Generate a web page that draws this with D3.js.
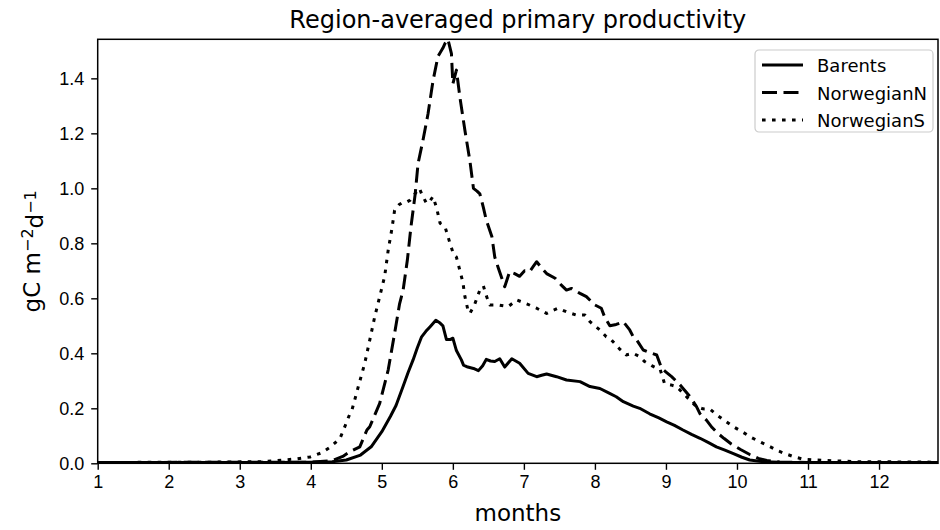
<!DOCTYPE html>
<html>
<head>
<meta charset="utf-8">
<script src="https://cdn.jsdelivr.net/npm/d3@7"></script>
<style>
  body { margin: 0; background: #fff; }
  svg { font-family: "DejaVu Sans", sans-serif; }
  .tick text { fill: #000; }
</style>
</head>
<body>
<div class="chart"></div>
<script>
const w = 940;
const h = 530;
const margin = { top: 39.3, bottom: 66.7, left: 97.7, right: 2 };

const width = w - margin.left - margin.right;
const height = h - margin.top - margin.bottom;

// data (month, gC m-2 d-1)
const barentsMonths = [1.0, 3.5, 4.0, 4.3, 4.5, 4.7, 4.85, 5.0, 5.12, 5.2, 5.3, 5.37, 5.44, 5.5, 5.56, 5.62, 5.68, 5.76, 5.82, 5.86, 5.91, 5.96, 6.0, 6.05, 6.12, 6.15, 6.21, 6.29, 6.36, 6.42, 6.47, 6.53, 6.59, 6.66, 6.73, 6.83, 6.94, 7.06, 7.18, 7.25, 7.32, 7.46, 7.6, 7.79, 7.93, 8.07, 8.2, 8.3, 8.4, 8.54, 8.63, 8.77, 8.9, 9.01, 9.12, 9.24, 9.36, 9.48, 9.6, 9.71, 9.83, 9.95, 10.07, 10.18, 10.37, 10.6, 12.83];
const barentsValues = [0.003, 0.003, 0.004, 0.006, 0.012, 0.03, 0.06, 0.115, 0.17, 0.21, 0.28, 0.33, 0.376, 0.42, 0.46, 0.48, 0.497, 0.52, 0.51, 0.5, 0.45, 0.45, 0.455, 0.41, 0.376, 0.357, 0.35, 0.345, 0.337, 0.355, 0.378, 0.372, 0.37, 0.38, 0.35, 0.38, 0.364, 0.327, 0.315, 0.32, 0.325, 0.315, 0.303, 0.297, 0.279, 0.272, 0.255, 0.242, 0.224, 0.208, 0.2, 0.18, 0.165, 0.151, 0.138, 0.121, 0.105, 0.091, 0.075, 0.06, 0.048, 0.035, 0.022, 0.012, 0.006, 0.004, 0.003];

const norwNMonths = [1.0, 4.0, 4.3, 4.45, 4.55, 4.69, 4.79, 4.83, 4.97, 5.09, 5.18, 5.25, 5.3, 5.36, 5.41, 5.47, 5.51, 5.58, 5.65, 5.72, 5.79, 5.86, 5.89, 5.93, 5.98, 6.0, 6.05, 6.1, 6.17, 6.24, 6.29, 6.34, 6.38, 6.43, 6.47, 6.55, 6.59, 6.64, 6.73, 6.8, 6.87, 6.94, 7.01, 7.08, 7.13, 7.18, 7.25, 7.32, 7.44, 7.52, 7.6, 7.67, 7.79, 7.88, 8.0, 8.09, 8.14, 8.21, 8.3, 8.4, 8.49, 8.54, 8.59, 8.68, 8.8, 8.87, 8.94, 9.01, 9.08, 9.2, 9.34, 9.43, 9.48, 9.57, 9.65, 9.73, 9.82, 9.92, 10.05, 10.18, 10.3, 10.42, 10.6, 11.0, 12.83];
const norwNValues = [0.003, 0.004, 0.01, 0.025, 0.042, 0.06, 0.121, 0.133, 0.218, 0.34, 0.473, 0.58, 0.63, 0.74, 0.86, 0.98, 1.09, 1.176, 1.27, 1.39, 1.48, 1.51, 1.527, 1.542, 1.49, 1.38, 1.43, 1.33, 1.21, 1.1, 1.0, 0.99, 0.98, 0.93, 0.885, 0.824, 0.75, 0.71, 0.642, 0.697, 0.69, 0.68, 0.7, 0.697, 0.715, 0.733, 0.71, 0.69, 0.673, 0.65, 0.63, 0.636, 0.618, 0.606, 0.576, 0.564, 0.53, 0.5, 0.505, 0.515, 0.485, 0.46, 0.448, 0.412, 0.4, 0.394, 0.345, 0.33, 0.315, 0.285, 0.242, 0.206, 0.18, 0.157, 0.13, 0.109, 0.09, 0.07, 0.05, 0.032, 0.018, 0.01, 0.005, 0.003, 0.003];

const norwSMonths = [1.0, 2.5, 3.3, 3.61, 3.8, 3.99, 4.15, 4.27, 4.41, 4.46, 4.55, 4.58, 4.67, 4.76, 4.83, 4.9, 4.97, 5.04, 5.09, 5.14, 5.18, 5.24, 5.3, 5.35, 5.4, 5.49, 5.53, 5.56, 5.63, 5.68, 5.72, 5.77, 5.82, 5.89, 5.96, 6.01, 6.05, 6.1, 6.14, 6.17, 6.21, 6.24, 6.31, 6.38, 6.43, 6.47, 6.52, 6.64, 6.78, 6.9, 7.04, 7.18, 7.32, 7.4, 7.48, 7.6, 7.74, 7.86, 7.93, 8.07, 8.16, 8.21, 8.35, 8.44, 8.54, 8.63, 8.7, 8.8, 8.92, 8.98, 9.07, 9.15, 9.29, 9.43, 9.52, 9.62, 9.72, 9.85, 9.95, 10.09, 10.2, 10.34, 10.47, 10.58, 10.7, 10.81, 10.93, 11.12, 11.35, 11.7, 12.3, 12.83];
const norwSValues = [0.003, 0.004, 0.006, 0.012, 0.016, 0.023, 0.038, 0.058, 0.09, 0.121, 0.18, 0.194, 0.28, 0.364, 0.448, 0.533, 0.606, 0.68, 0.776, 0.85, 0.92, 0.94, 0.95, 0.95, 0.957, 0.988, 1.0, 0.98, 0.945, 0.955, 0.97, 0.93, 0.873, 0.86, 0.8, 0.76, 0.75, 0.7, 0.66, 0.606, 0.56, 0.545, 0.58, 0.63, 0.645, 0.61, 0.576, 0.576, 0.57, 0.594, 0.58, 0.564, 0.545, 0.555, 0.564, 0.551, 0.539, 0.539, 0.515, 0.485, 0.46, 0.455, 0.415, 0.394, 0.4, 0.388, 0.37, 0.355, 0.34, 0.29, 0.285, 0.279, 0.242, 0.206, 0.198, 0.197, 0.175, 0.151, 0.133, 0.112, 0.094, 0.076, 0.06, 0.045, 0.033, 0.023, 0.015, 0.012, 0.009, 0.006, 0.005, 0.004];

const seriesNames = ["Barents", "NorwegianN", "NorwegianS"];
const xTicks = [1, 2, 3, 4, 5, 6, 7, 8, 9, 10, 11, 12];
const yTicks = [0, 0.2, 0.4, 0.6, 0.8, 1.0, 1.2, 1.4];

const series = [
  { name: seriesNames[0], months: barentsMonths, values: barentsValues, dash: null },
  { name: seriesNames[1], months: norwNMonths, values: norwNValues, dash: "15,6.5" },
  { name: seriesNames[2], months: norwSMonths, values: norwSValues, dash: "3.6,6.4" }
];

const x = d3.scaleLinear().domain([1, 12.83]).range([0, width]);
const y = d3.scaleLinear().domain([0, 1.542]).range([height, 0]);

const svg = d3.select(".chart")
        .append("svg")
        .attr("width", w)
        .attr("height", h);

const g = svg.append("g")
        .attr("transform", `translate(${margin.left},${margin.top})`);

svg.append("defs").append("clipPath")
        .attr("id", "plot-clip")
        .append("rect")
        .attr("width", width)
        .attr("height", height);

// axes
const xAxis = g.append("g")
        .attr("transform", `translate(0,${height})`)
        .call(d3.axisBottom(x).tickValues(xTicks).tickSize(6.5).tickPadding(5).tickFormat(d3.format("d")));
xAxis.select(".domain").remove();
xAxis.selectAll("text").style("font-size", "18px");
xAxis.selectAll("line").attr("stroke-width", 1.4);

const yAxis = g.append("g")
        .call(d3.axisLeft(y).tickValues(yTicks).tickSize(6.5).tickPadding(7).tickFormat(d3.format(".1f")));
yAxis.select(".domain").remove();
yAxis.selectAll("text").style("font-size", "18px").attr("dy", "0.36em");
yAxis.selectAll("line").attr("stroke-width", 1.4);

// lines
const line = d3.line()
        .x(d => x(d[0]))
        .y(d => y(d[1]));

g.append("g")
  .attr("clip-path", "url(#plot-clip)")
  .selectAll("path")
  .data(series)
  .enter()
    .append("path")
    .attr("d", d => line(d.months.map((m, i) => [m, d.values[i]])))
    .attr("fill", "none")
    .attr("stroke", "#000")
    .attr("stroke-width", 3)
    .attr("stroke-linejoin", "round")
    .attr("stroke-dasharray", d => d.dash);

// frame
g.append("rect")
  .attr("width", width)
  .attr("height", height)
  .attr("fill", "none")
  .attr("stroke", "#000")
  .attr("stroke-width", 1.5);

// title and labels
svg.append("text")
  .attr("x", margin.left + width / 2)
  .attr("y", 28)
  .attr("text-anchor", "middle")
  .style("font-size", "24px")
  .text("Region-averaged primary productivity");

svg.append("text")
  .attr("x", margin.left + width / 2)
  .attr("y", 521)
  .attr("text-anchor", "middle")
  .style("font-size", "23px")
  .text("months");

const ylab = svg.append("text")
  .attr("transform", `translate(40,${margin.top + height / 2}) rotate(-90)`)
  .attr("text-anchor", "middle")
  .style("font-size", "23px");
ylab.append("tspan").text("gC m");
ylab.append("tspan").attr("dy", "-0.45em").style("font-size", "16px").text("\u22122");
ylab.append("tspan").attr("dy", "0.45em").text("d");
ylab.append("tspan").attr("dy", "-0.45em").style("font-size", "16px").text("\u22121");

// legend
const legend = svg.append("g")
  .attr("transform", "translate(755,50)");

legend.append("rect")
  .attr("width", 178)
  .attr("height", 82)
  .attr("rx", 4)
  .attr("fill", "#fff")
  .attr("fill-opacity", 0.8)
  .attr("stroke", "#ccc")
  .attr("stroke-width", 1.2);

const items = legend.selectAll(".legend")
  .data(series)
  .enter().append("g")
  .attr("class", "legend")
  .attr("transform", (d, i) => `translate(0,${15 + i * 27.5})`);

items.append("line")
  .attr("x1", 7)
  .attr("x2", 48)
  .attr("stroke", "#000")
  .attr("stroke-width", 3)
  .attr("stroke-dasharray", d => d.dash);

items.append("text")
  .attr("x", 62)
  .attr("y", 7)
  .style("font-size", "18px")
  .text(d => d.name);
</script>
</body>
</html>
